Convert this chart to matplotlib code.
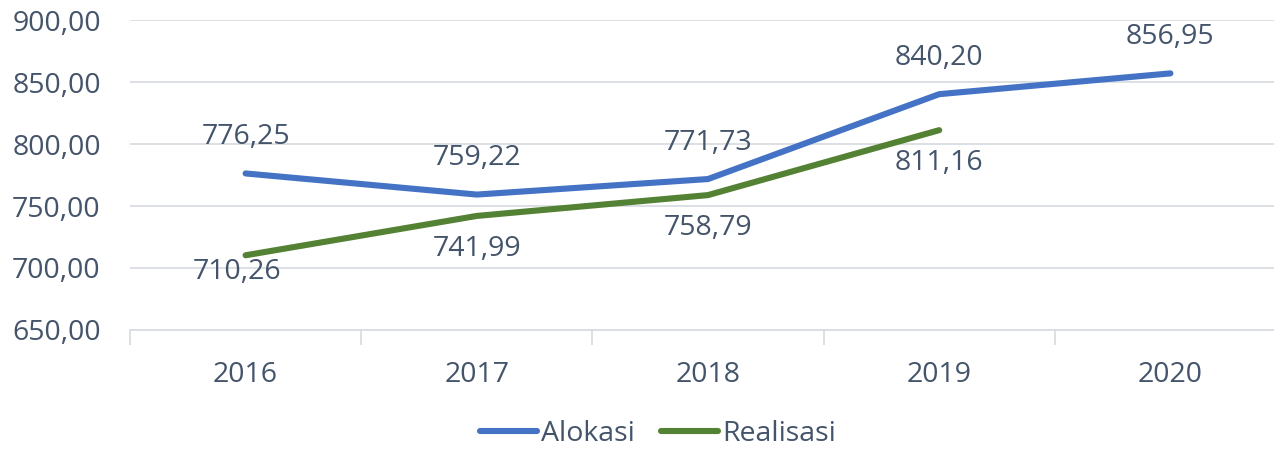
import numpy as np
import matplotlib
matplotlib.use("Agg")
import matplotlib.pyplot as plt
from matplotlib.ticker import FuncFormatter, FixedLocator

years = ["2016", "2017", "2018", "2019", "2020"]
alokasi = [776.25, 759.22, 771.73, 840.20, 856.95]
realisasi = [710.26, 741.99, 758.79, 811.16]

txt = "#44546A"
grid = "#D9DDE3"
blue = "#4472C4"
green = "#548235"

plt.rcParams["font.family"] = ["Open Sans", "DejaVu Sans"]
fs = 20.5

def fmt(v):
    return f"{v:.2f}".replace(".", ",")

fig = plt.figure(figsize=(12.74, 4.49), dpi=100)
ax = fig.add_axes([130 / 1274, 119 / 449, 1156 / 1274, 310 / 449])

x = np.arange(len(years))
ax.plot(x, alokasi, color=blue, lw=4.4, solid_capstyle="round", label="Alokasi", zorder=3)
ax.plot(x[:len(realisasi)], realisasi, color=green, lw=4.4, solid_capstyle="round", label="Realisasi", zorder=3)

for i, v in enumerate(alokasi):
    ax.annotate(fmt(v), (i, v), xytext=(0, 26), textcoords="offset points",
                ha="center", va="center", fontsize=fs, color=txt)
for i, v in enumerate(realisasi):
    dy = -12 if i == 0 else -24
    dx = -6 if i == 0 else 0
    ax.annotate(fmt(v), (i, v), xytext=(dx, dy), textcoords="offset points",
                ha="center", va="center", fontsize=fs, color=txt)

ax.set_xlim(-0.5, len(years) - 0.5)
ax.set_ylim(650, 900)
ax.set_yticks(np.arange(650, 901, 50))
ax.yaxis.set_major_formatter(FuncFormatter(lambda v, p: fmt(v)))
ax.set_xticks(x)
ax.set_xticklabels(years)
ax.xaxis.set_minor_locator(FixedLocator(np.arange(-0.5, len(years), 1.0)))

ax.grid(axis="y", color=grid, lw=1.3)
ax.set_axisbelow(True)
for s in ["top", "right", "left"]:
    ax.spines[s].set_visible(False)
ax.spines["bottom"].set_color(grid)
ax.spines["bottom"].set_linewidth(1.3)

ax.tick_params(axis="y", length=0, pad=21, labelsize=fs, labelcolor=txt)
ax.tick_params(axis="x", which="major", length=0, pad=22, labelsize=fs, labelcolor=txt)
ax.tick_params(axis="x", which="minor", length=11, width=1.3, color=grid)

ax.legend(loc="center", bbox_to_anchor=(658 / 1274, 15 / 449), bbox_transform=fig.transFigure,
          ncol=2, frameon=False, fontsize=fs, labelcolor=txt, handlelength=2.0,
          handletextpad=0.15, columnspacing=0.9)

fig.savefig("out.png", dpi=100)
